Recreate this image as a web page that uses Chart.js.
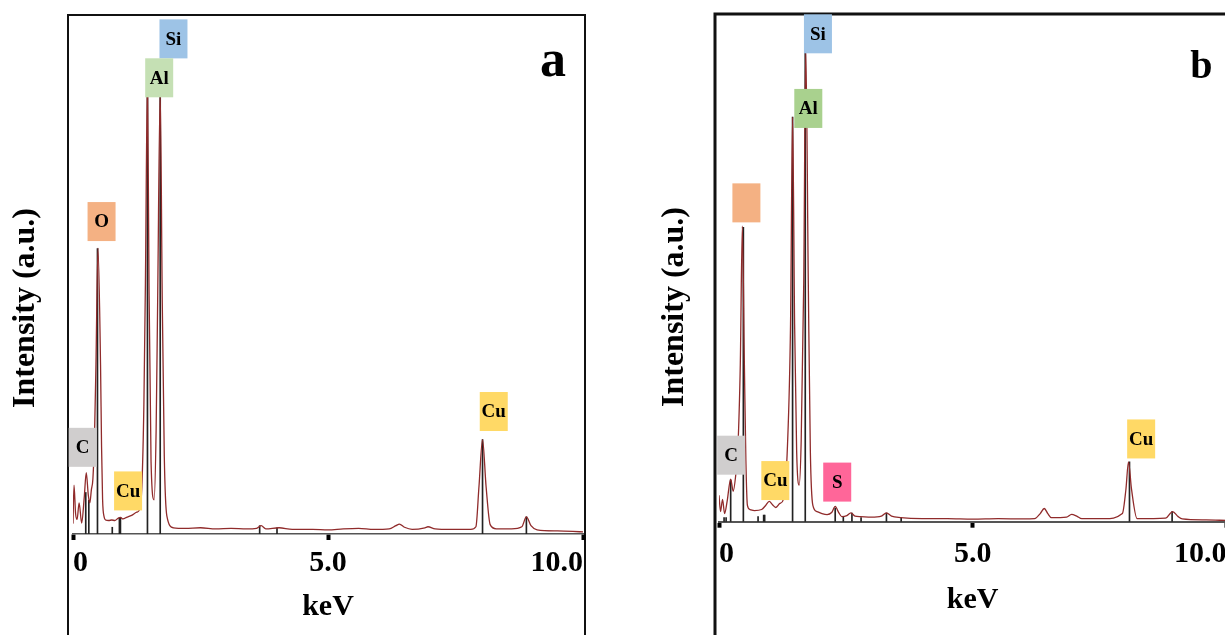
<!DOCTYPE html>
<html lang="en">
<head>
<meta charset="UTF-8">
<title>EDS spectra a / b</title>
<style>
  body { margin: 0; background: #fff; width: 1225px; height: 635px; overflow: hidden; position: relative; }
  .panel { position: absolute; top: 0; }
  #panelA { left: 0; }
  #panelB { left: 650px; }
</style>
</head>
<body>
<div class="panel" id="panelA"><canvas id="chartA" width="612" height="635"></canvas></div>
<div class="panel" id="panelB"><canvas id="chartB" width="600" height="635"></canvas></div>

<script src="https://cdn.jsdelivr.net/npm/chart.js"></script>
<script>
// x axis
const tickValues = [0, 5, 10];
const tickLabels = ['0', '5.0', '10.0'];

// panel a - spectrum (keV, intensity a.u.)
const aEnergy = [0.00, 0.02, 0.05, 0.08, 0.12, 0.17, 0.22, 0.26, 0.30, 0.33, 0.36, 0.39, 0.42, 0.45, 0.49, 0.54, 0.56, 0.58, 0.61,
  0.64, 0.70, 0.76, 0.82, 0.88, 0.93, 0.98, 1.05, 1.15, 1.25, 1.30, 1.35, 1.39, 1.42, 1.46, 1.49, 1.53, 1.59,
  1.63, 1.66, 1.71, 1.75, 1.79, 1.84, 1.97, 2.20, 2.50, 2.80, 3.10, 3.40, 3.60, 3.69, 3.78, 4.04, 4.30, 4.70,
  5.00, 5.30, 5.60, 5.90, 6.20, 6.33, 6.40, 6.50, 6.65, 6.90, 6.96, 7.10, 7.40, 7.80, 7.90, 7.96, 8.03, 8.10,
  8.18, 8.30, 8.60, 8.80, 8.89, 8.98, 9.10, 9.50, 9.80, 10.00];
const aIntensity = [2.0, 9.4, 4.0, 2.8, 6.0, 2.1, 7.0, 11.8, 7.5, 6.0, 8.5, 10.6, 18.0, 32.6, 55.1, 32.6, 16.8, 6.7, 3.3,
  2.7, 2.6, 2.7, 2.6, 3.0, 3.2, 2.9, 3.2, 3.6, 4.2, 4.6, 9.1, 25.0, 48.4, 87.5, 48.4, 14.0, 6.6,
  20.0, 45.0, 85.2, 45.0, 15.0, 3.5, 1.2, 1.1, 1.2, 1.0, 1.1, 1.0, 1.1, 1.6, 1.0, 1.2, 0.9, 0.9,
  0.8, 1.0, 1.1, 0.9, 1.0, 1.6, 1.9, 1.3, 0.9, 1.2, 1.4, 1.0, 0.9, 0.9, 1.4, 9.1, 18.2, 9.1,
  1.8, 1.0, 1.0, 1.4, 3.3, 1.6, 0.8, 0.6, 0.5, 0.4];
// panel a - element marker lines
const aMarkEnergy = [0.25, 0.31, 0.48, 0.77, 0.91, 0.93, 1.46, 1.71, 3.66, 4.00, 8.03, 8.89];
const aMarkHeight = [8.0, 6.5, 55.0, 1.3, 3.2, 3.2, 87.5, 85.2, 1.6, 1.2, 18.2, 3.3];
// panel a - peak tags
const aTagElement = ['Si', 'Al', 'O', 'C', 'Cu', 'Cu'];
const aTagText = ['Si', 'Al', 'O', 'C', 'Cu', 'Cu'];
const aTagEnergy = [1.97, 1.69, 0.56, 0.19, 1.08, 8.25];
const aTagLevel = [95.4, 87.9, 60.2, 16.7, 8.3, 23.6];

// panel b - spectrum
const bEnergy = [0.00, 0.03, 0.07, 0.11, 0.16, 0.23, 0.28, 0.33, 0.37, 0.42, 0.46, 0.50, 0.53, 0.56, 0.61, 0.70, 0.84,
  0.92, 0.99, 1.05, 1.12, 1.20, 1.27, 1.35, 1.41, 1.45, 1.49, 1.53, 1.58, 1.62, 1.67, 1.71, 1.76, 1.80, 1.85,
  1.93, 2.03, 2.13, 2.22, 2.29, 2.36, 2.42, 2.52, 2.60, 2.68, 2.79, 3.00, 3.20, 3.30, 3.40, 3.58, 4.00, 4.50,
  5.00, 5.50, 6.00, 6.22, 6.33, 6.41, 6.48, 6.55, 6.85, 6.95, 7.05, 7.15, 7.60, 7.95, 8.02, 8.07, 8.13, 8.24,
  8.80, 8.94, 9.05, 9.13, 9.60, 10.00];
const bIntensity = [5.2, 2.0, 4.4, 1.6, 4.0, 8.4, 6.0, 9.2, 14.0, 31.1, 58.2, 31.1, 12.0, 3.2, 2.4, 2.2, 2.4,
  3.2, 4.0, 3.4, 2.8, 3.6, 4.4, 15.1, 39.0, 79.7, 39.0, 14.0, 7.2, 16.0, 47.0, 93.3, 47.0, 14.0, 3.2,
  2.0, 1.6, 1.4, 1.8, 3.0, 1.8, 1.0, 1.2, 1.75, 1.1, 1.0, 0.9, 1.1, 1.75, 1.1, 0.8, 0.6, 0.6,
  0.5, 0.6, 0.55, 0.6, 1.6, 2.6, 1.6, 0.8, 0.9, 1.45, 1.1, 0.6, 0.6, 1.6, 6.4, 11.8, 6.4, 0.6,
  0.7, 2.0, 1.0, 0.55, 0.35, 0.25];
const bMarkEnergy = [0.10, 0.14, 0.23, 0.48, 0.77, 0.88, 0.90, 1.45, 1.70, 2.29, 2.45, 2.62, 2.80, 3.30, 3.59, 8.09, 8.93];
const bMarkHeight = [0.8, 0.8, 8.2, 58.0, 1.0, 1.3, 1.3, 79.7, 93.3, 2.7, 1.0, 1.7, 0.8, 1.7, 0.8, 11.8, 2.0];
const bTagElement = ['Si', 'Al', 'O', 'C', 'Cu', 'S', 'Cu'];
const bTagText = ['Si', 'Al', '', 'C', 'Cu', 'S', 'Cu'];
const bTagEnergy = [1.95, 1.76, 0.54, 0.24, 1.11, 2.33, 8.32];
const bTagLevel = [96.1, 81.4, 62.8, 13.1, 8.1, 7.8, 16.3];

const serif = '"Liberation Serif", "Times New Roman", serif';

// frame, y title, peak tags and panel letter
const panelDecor = {
  id: 'panelDecor',
  beforeDraw(chart, args, o) {
    const {ctx, chartArea: a} = chart;
    ctx.save();
    ctx.strokeStyle = '#111';
    ctx.lineWidth = o.frameWidth;
    const left = a.left - o.frameGapLeft;
    ctx.strokeRect(left, a.top, a.right + o.frameGapRight - left, chart.height + 20);

    // y axis title sits outside the frame, a bit below the middle
    ctx.translate(a.left + o.yTitlePos[0], a.top + o.yTitlePos[1]);
    ctx.rotate(-Math.PI / 2);
    ctx.fillStyle = '#000';
    ctx.font = 'bold 32px ' + serif;
    ctx.textAlign = 'center';
    ctx.textBaseline = 'middle';
    ctx.fillText('Intensity (a.u.)', 0, 0);
    ctx.restore();
  },
  afterDatasetsDraw(chart, args, o) {
    const {ctx, chartArea: a, scales} = chart;
    ctx.save();
    o.tags.element.forEach((el, i) => {
      const px = scales.x.getPixelForValue(o.tags.energy[i]);
      const py = scales.y.getPixelForValue(o.tags.level[i]);
      const w = o.tagSize[0], h = o.tagSize[1];
      ctx.fillStyle = o.tagColors[el];
      ctx.fillRect(px - w / 2, py - h / 2, w, h);
      if (o.tags.text[i]) {
        ctx.fillStyle = '#000';
        ctx.font = 'bold 19px ' + serif;
        ctx.textAlign = 'center';
        ctx.textBaseline = 'middle';
        ctx.fillText(o.tags.text[i], px, py + 1);
      }
    });
    ctx.fillStyle = '#000';
    ctx.font = 'bold ' + o.letterSize + 'px ' + serif;
    ctx.textAlign = 'center';
    ctx.textBaseline = 'alphabetic';
    ctx.fillText(o.letter, a.right + o.letterPos[0], a.top + o.letterPos[1]);
    ctx.restore();
  }
};

function makePanel(canvasId, s) {
  const spectrum = s.energy.map((e, i) => ({x: e, y: s.intensity[i]}));
  const marks = s.markEnergy.map((e, i) => ({x: e, y: s.markHeight[i]}));
  return new Chart(document.getElementById(canvasId), {
    type: 'line',
    data: {
      datasets: [
        {
          type: 'line',
          data: spectrum,
          borderColor: '#902b2b',
          borderWidth: 1.3,
          pointRadius: 0,
          cubicInterpolationMode: 'monotone',
          order: 0
        },
        {
          type: 'bar',
          data: marks,
          backgroundColor: '#222',
          barThickness: 1,
          grouped: false,
          order: 1
        }
      ]
    },
    options: {
      responsive: false,
      animation: false,
      layout: { padding: s.padding },
      plugins: {
        legend: { display: false },
        tooltip: { enabled: false },
        panelDecor: {
          frameWidth: s.frameWidth,
          frameGapLeft: s.frameGapLeft,
          frameGapRight: s.frameGapRight,
          yTitlePos: s.yTitlePos,
          letter: s.letter,
          letterSize: s.letterSize,
          letterPos: s.letterPos,
          tagSize: [28, 39],
          tagColors: s.tagColors,
          tags: s.tags
        }
      },
      scales: {
        x: {
          type: 'linear',
          min: 0,
          max: 10,
          offset: false,
          afterBuildTicks: axis => { axis.ticks = tickValues.map(v => ({value: v})); },
          ticks: {
            align: 'inner',
            padding: s.tickPad,
            maxRotation: 0,
            autoSkip: false,
            color: '#000',
            font: { family: serif, size: 30, weight: 'bold' },
            callback: v => tickLabels[tickValues.indexOf(v)]
          },
          grid: { offset: false, drawOnChartArea: false, drawTicks: true, tickLength: 6, tickWidth: 4, tickColor: '#000' },
          border: { display: true, color: '#555', width: s.axisWidth },
          title: {
            display: true,
            text: 'keV',
            color: '#000',
            font: { family: serif, size: 30, weight: 'bold' },
            padding: s.xTitlePad
          }
        },
        y: {
          display: false,
          min: 0,
          max: 100
        }
      }
    },
    plugins: [panelDecor]
  });
}

const tagColors = { Si: '#9dc3e6', Al: '#c5e0b4', O: '#f4b183', C: '#d0cece', Cu: '#ffd966', S: '#ff6699' };

makePanel('chartA', {
  energy: aEnergy, intensity: aIntensity,
  markEnergy: aMarkEnergy, markHeight: aMarkHeight,
  tags: { element: aTagElement, text: aTagText, energy: aTagEnergy, level: aTagLevel },
  tagColors: tagColors,
  letter: 'a', letterSize: 52, letterPos: [-30, 61],
  padding: { left: 73, right: 29, top: 15, bottom: 0 },
  tickPad: 5, axisWidth: 1.5,
  xTitlePad: { top: 3, bottom: 10 },
  yTitlePos: [-47, 293],
  frameWidth: 2, frameGapLeft: 5, frameGapRight: 2
});

makePanel('chartB', {
  energy: bEnergy, intensity: bIntensity,
  markEnergy: bMarkEnergy, markHeight: bMarkHeight,
  tags: { element: bTagElement, text: bTagText, energy: bTagEnergy, level: bTagLevel },
  tagColors: Object.assign({}, tagColors, { Al: '#a9d18e' }),
  letter: 'b', letterSize: 40, letterPos: [-25, 64],
  padding: { left: 69, right: 23.6, top: 14, bottom: 0 },
  tickPad: 9, axisWidth: 2,
  xTitlePad: { top: 1, bottom: 16.3 },
  yTitlePos: [-44, 293],
  frameWidth: 3, frameGapLeft: 4, frameGapRight: 20
});
</script>
</body>
</html>
